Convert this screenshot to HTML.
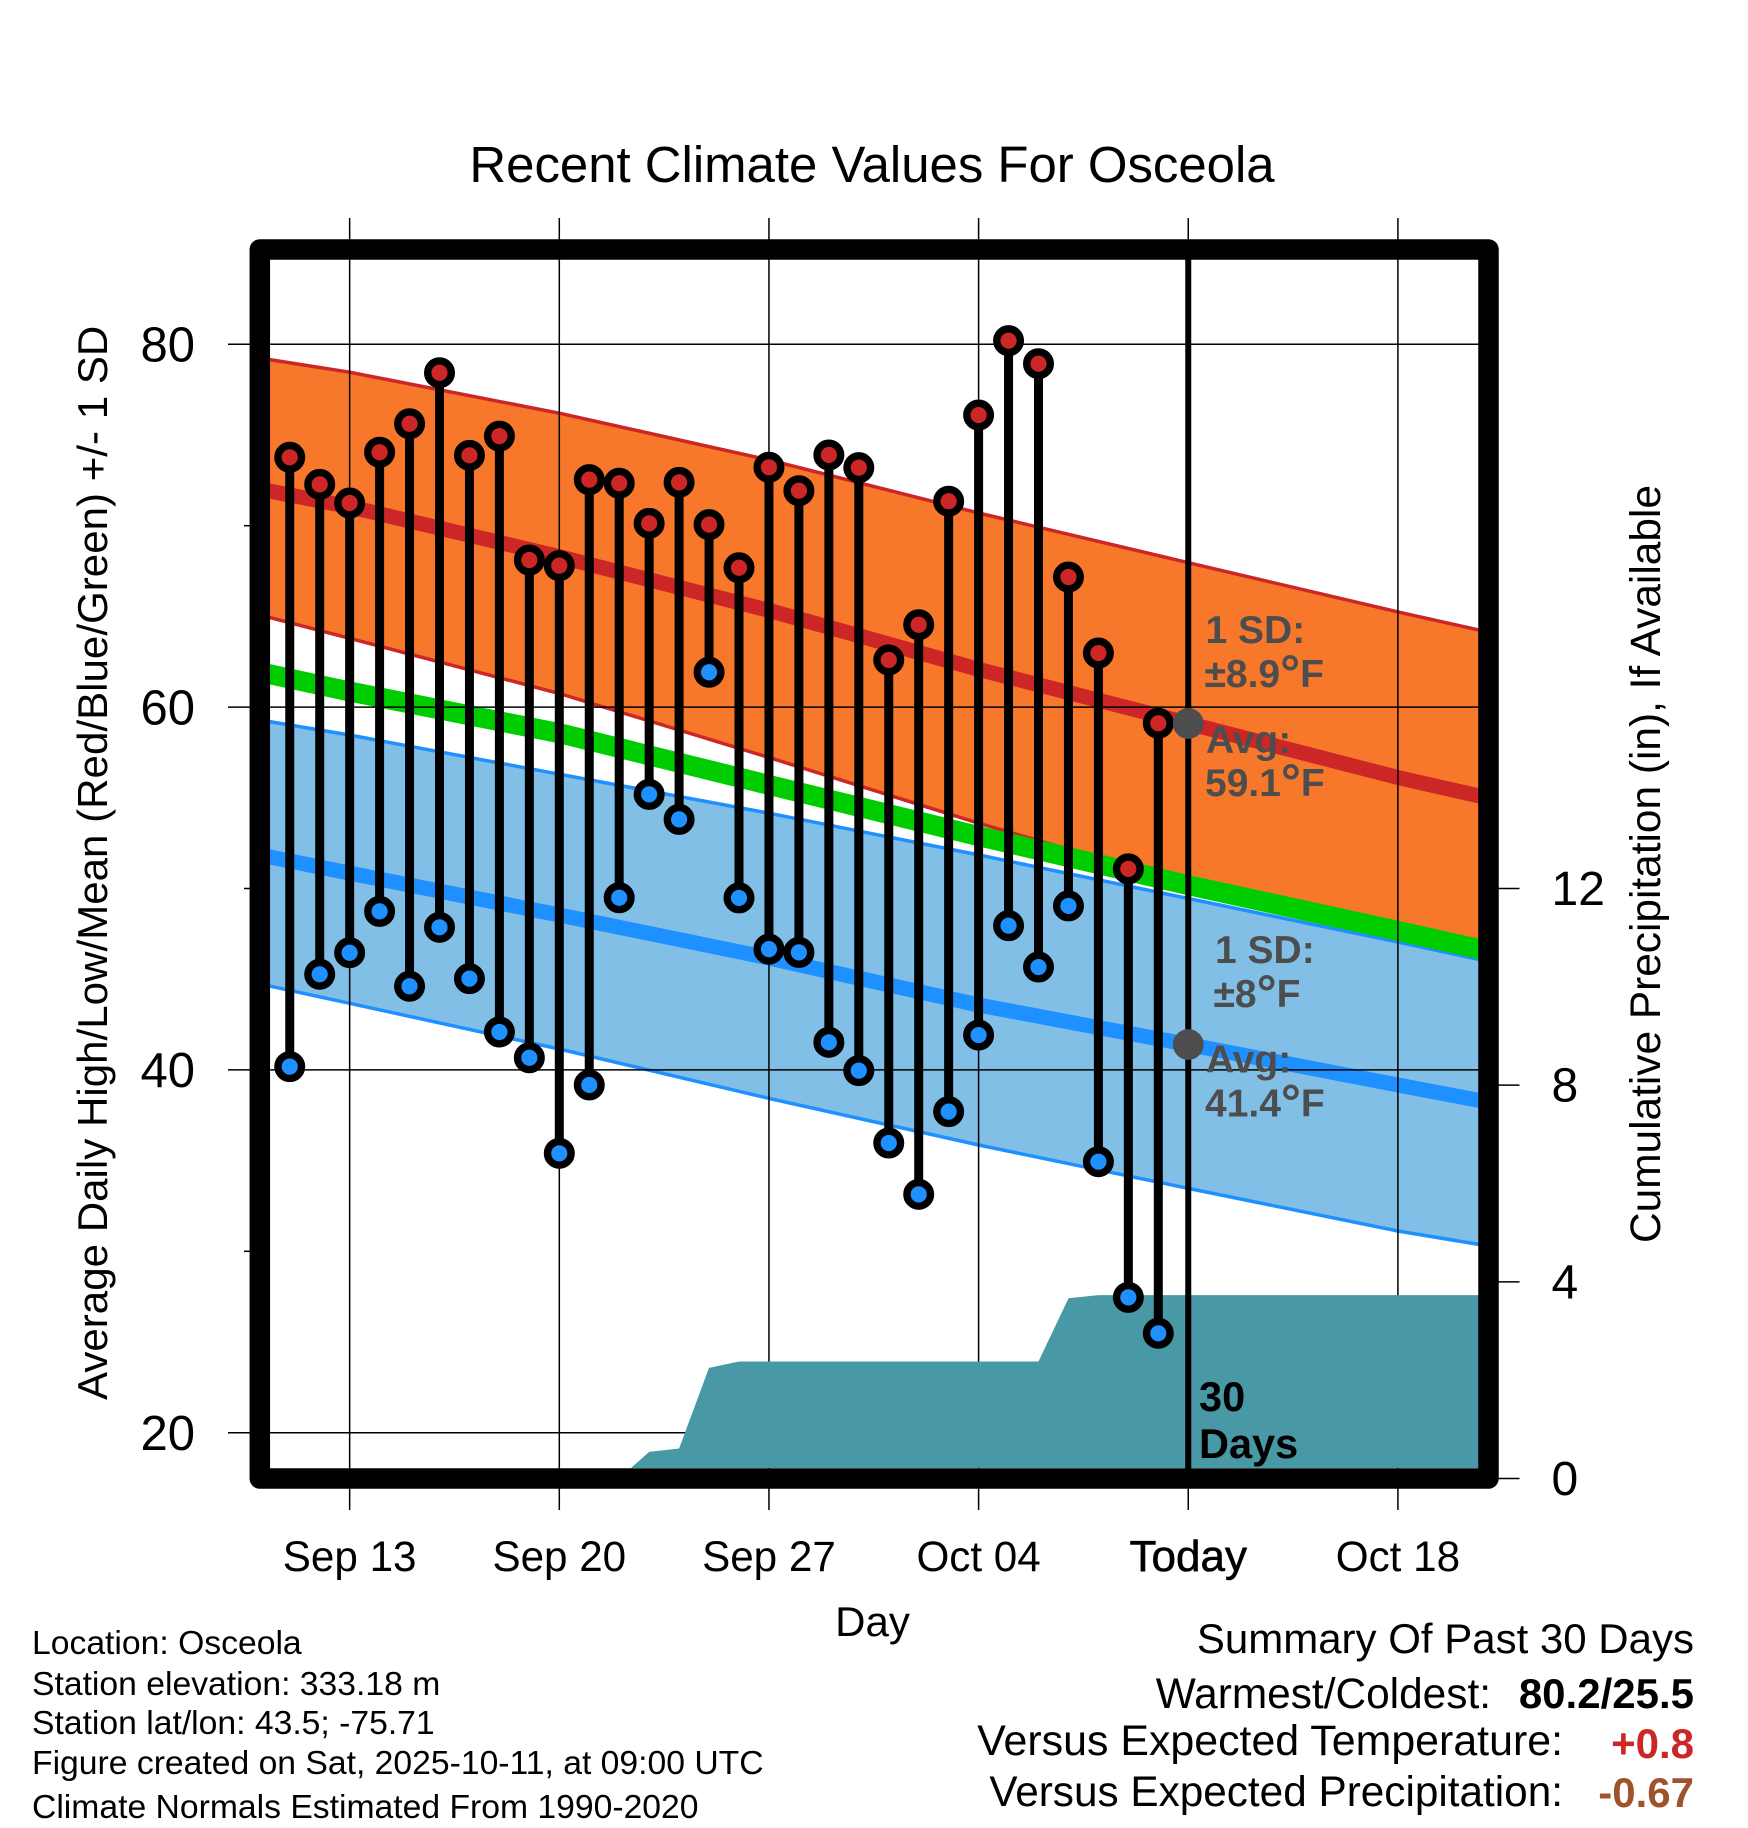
<!DOCTYPE html>
<html lang="en">
<head>
<meta charset="utf-8">
<title>Recent Climate Values For Osceola</title>
<style>
html,body{margin:0;padding:0;background:#fff;}
svg{display:block;}
text{font-family:"Liberation Sans",Arial,sans-serif;fill:#000;}
.b{font-weight:bold;}
.ann{font-weight:bold;font-size:39px;fill:#4d4d4d;}
</style>
</head>
<body>
<svg id="chart" xmlns="http://www.w3.org/2000/svg" width="1748" height="1828" viewBox="0 0 1748 1828">
<defs><clipPath id="plot-clip"><rect x="270" y="260" width="1209" height="1208"/></clipPath></defs>
<g id="plot"></g>
<g id="axes"></g>
<text x="872" y="182" font-size="50.9" text-anchor="middle">Recent Climate Values For Osceola</text>
<text x="872.5" y="1636" font-size="42" text-anchor="middle">Day</text>
<text x="107" y="1400" font-size="42.1" transform="rotate(-90 107 1400)">Average Daily High/Low/Mean (Red/Blue/Green) +/- 1 SD</text>
<text x="1660" y="1243" font-size="42.4" transform="rotate(-90 1660 1243)">Cumulative Precipitation (in), If Available</text>

<g font-size="33.7">
<text x="32" y="1654">Location: Osceola</text>
<text x="32" y="1695">Station elevation: 333.18 m</text>
<text x="32" y="1734">Station lat/lon: 43.5; -75.71</text>
<text x="32" y="1774">Figure created on Sat, 2025-10-11, at 09:00 UTC</text>
<text x="32" y="1818">Climate Normals Estimated From 1990-2020</text>
</g>

<g font-size="42">
<text x="1694" y="1653" text-anchor="end">Summary Of Past 30 Days</text>
<text x="1491" y="1708" font-size="42.4" text-anchor="end">Warmest/Coldest:</text>
<text class="b" x="1694" y="1708" text-anchor="end">80.2/25.5</text>
<text x="1563" y="1755" font-size="42.9" text-anchor="end">Versus Expected Temperature:</text>
<text class="b" x="1694" y="1758" text-anchor="end" style="fill:#cd2626">+0.8</text>
<text x="1563" y="1806" font-size="42.3" text-anchor="end">Versus Expected Precipitation:</text>
<text class="b" x="1694" y="1807" text-anchor="end" style="fill:#a0522d">-0.67</text>
</g>
<script>
// ---- chart data ----
const days = [1,2,3,4,5,6,7,8,9,10,11,12,13,14,15,16,17,18,19,20,21,22,23,24,25,26,27,28,29,30];
const dailyHigh = [73.77,72.28,71.25,74.05,75.62,78.43,73.88,74.94,68.11,67.8,72.54,72.34,70.13,72.39,70.06,67.68,73.22,71.93,73.9,73.2,62.6,64.54,71.35,76.1,80.2,78.93,67.17,62.98,51.08,59.11];
const dailyLow = [40.18,45.27,46.46,48.74,44.61,47.86,45.03,42.09,40.67,35.4,39.17,49.49,55.19,53.81,61.92,49.48,46.66,46.48,41.52,39.96,35.97,33.14,37.7,41.92,47.95,45.67,49.04,34.94,27.46,25.48];
const normalDays = [0,3,10,17,24,31,38,41];
const highUpper = [79.24,78.46,76.2,73.62,70.7,67.96,65.25,64.14];
const highMean = [72.02,71.05,68.29,65.33,62.08,59.1,56.12,54.99];
const highLower = [65.08,63.79,60.75,57.22,53.6,50.25,47.71,46.61];
const meanNormal = [61.93,60.86,58.56,55.71,52.89,50.18,47.66,46.56];
const lowUpper = [59.29,58.46,56.3,54.15,51.85,49.45,47.05,45.98];
const lowMean = [51.85,50.85,48.54,46.17,43.58,41.4,39.17,38.23];
const lowLower = [44.74,43.67,41.15,38.43,35.86,33.47,31.12,30.3];
const precipDays = [0,12,13,14,15,16,26,27,28,41];
const precipValues = [0,0,0.54,0.61,2.25,2.38,2.38,3.665,3.73,3.73];
const xTickDays = [3,10,17,24,31,38];
const xTickLabels = ['Sep 13','Sep 20','Sep 27','Oct 04','Today','Oct 18'];
const yTickValues = [80,60,40,20];
const yMinorValues = [70,50,30];
const y2TickValues = [0,4,8,12];
const todayDay = 31;
const todayHigh = 59.1;
const todayLow = 41.4;
const annotationTopHigh = '1 SD:';
const annotationSdHigh = '±8.9°F';
const annotationAvg = 'Avg:';
const annotationAvgHigh = '59.1°F';
const annotationSdLow = '±8°F';
const annotationAvgLow = '41.4°F';

// ---- axis functions ----
function xScale(d){ return 259.8 + 29.95 * d; }
function yScale(f){ return 344.3 + (80 - f) * 18.14; }
function y2Scale(v){ return 1478.5 - 49.17 * v; }

const NS = 'http://www.w3.org/2000/svg';
const plot = document.getElementById('plot');
const axes = document.getElementById('axes');
function make(parent, tag, attrs, txt){
  const el = document.createElementNS(NS, tag);
  for (const k in attrs) el.setAttribute(k, attrs[k]);
  if (txt !== undefined) el.textContent = txt;
  parent.appendChild(el);
  return el;
}
function pts(xs, ys, sy){ return xs.map((d,i)=> xScale(d).toFixed(1)+','+sy(ys[i]).toFixed(1)); }
function band(parent, up, low){
  return pts(normalDays, up, yScale).concat(pts(normalDays, low, yScale).reverse()).join(' ');
}
let el;
const clipped = make(plot, 'g', {'clip-path':'url(#plot-clip)'});



// high band
el = make(clipped, 'polygon', {points: band(clipped, highUpper, highLower), fill:'#f7772b'});


el = make(clipped, 'polyline', {points: pts(normalDays, highUpper, yScale).join(' '), fill:'none', stroke:'#cd2626', 'stroke-width':3.5});


el = make(clipped, 'polyline', {points: pts(normalDays, highLower, yScale).join(' '), fill:'none', stroke:'#cd2626', 'stroke-width':3.5});


el = make(clipped, 'polyline', {points: pts(normalDays, highMean, yScale).join(' '), fill:'none', stroke:'#cd2626', 'stroke-width':15});



// low band
el = make(clipped, 'polygon', {points: band(clipped, lowUpper, lowLower), fill:'#82bfe7'});


el = make(clipped, 'polyline', {points: pts(normalDays, lowUpper, yScale).join(' '), fill:'none', stroke:'#1e90ff', 'stroke-width':3.5});


el = make(clipped, 'polyline', {points: pts(normalDays, lowLower, yScale).join(' '), fill:'none', stroke:'#1e90ff', 'stroke-width':3.5});


el = make(clipped, 'polyline', {points: pts(normalDays, lowMean, yScale).join(' '), fill:'none', stroke:'#1e90ff', 'stroke-width':15});



// green mean
el = make(clipped, 'polyline', {points: pts(normalDays, meanNormal, yScale).join(' '), fill:'none', stroke:'#00cd00', 'stroke-width':20});



// grid + ticks
xTickDays.forEach((d,i)=>{
  let g = make(plot, 'line', {x1:xScale(d), x2:xScale(d), y1:218, y2:1510, stroke:'#000', 'stroke-width':1.5});
  
  
  let t = make(axes, 'text', {x:xScale(d), y:1571, 'font-size':42.2, 'text-anchor':'middle'}, xTickLabels[i]);
  
  
  if (xTickLabels[i] === 'Today') {
    t.setAttribute('font-size', '44');
    t.setAttribute('style', 'stroke:#000;stroke-width:0.6px');
  }
});
yTickValues.forEach(v=>{
  let g = make(plot, 'line', {x1:228, x2:1479, y1:yScale(v), y2:yScale(v), stroke:'#000', 'stroke-width':1.5});
  
  
  let t = make(axes, 'text', {x:195, y:yScale(v)+17.3, 'font-size':49, 'text-anchor':'end'}, String(v));
  
  
});
yMinorValues.forEach(v=>{
  let g = make(plot, 'line', {x1:244, x2:252, y1:yScale(v), y2:yScale(v), stroke:'#000', 'stroke-width':1.5});
  
  
});
y2TickValues.forEach(v=>{
  let g = make(plot, 'line', {x1:1496, x2:1519.5, y1:y2Scale(v), y2:y2Scale(v), stroke:'#000', 'stroke-width':1.5});
  
  
  let t = make(axes, 'text', {x:1551.5, y:y2Scale(v)+16.5, 'font-size':48}, String(v));
  
  
});

// precipitation area
const clipped2 = make(plot, 'g', {'clip-path':'url(#plot-clip)'});


const precipPts = pts(precipDays, precipValues, y2Scale);
precipPts.push(xScale(precipDays[precipDays.length-1]).toFixed(1)+','+y2Scale(0).toFixed(1));
precipPts.push(xScale(precipDays[0]).toFixed(1)+','+y2Scale(0).toFixed(1));
el = make(clipped2, 'polygon', {points: precipPts.join(' '), fill:'#4899a5'});



// today line
el = make(plot, 'line', {x1:xScale(todayDay), x2:xScale(todayDay), y1:250, y2:1478, stroke:'#000', 'stroke-width':6});



// stems and markers
days.forEach((d,i)=>{
  let s = make(plot, 'line', {x1:xScale(d), x2:xScale(d), y1:yScale(dailyHigh[i]), y2:yScale(dailyLow[i]), stroke:'#000', 'stroke-width':9});
  
  
});
days.forEach((d,i)=>{
  let lo = make(plot, 'circle', {cx:xScale(d), cy:yScale(dailyLow[i]), r:11.8, fill:'#1e90ff', stroke:'#000', 'stroke-width':7.4});
  
  
  let hi = make(plot, 'circle', {cx:xScale(d), cy:yScale(dailyHigh[i]), r:11.8, fill:'#cd2626', stroke:'#000', 'stroke-width':7.4});
  
  
});

// today normals
el = make(plot, 'circle', {cx:xScale(todayDay), cy:yScale(todayHigh), r:15.4, fill:'#4d4d4d'});


el = make(plot, 'circle', {cx:xScale(todayDay), cy:yScale(todayLow), r:15.4, fill:'#4d4d4d'});



// annotations (degree sign drawn a little larger, as in the figure)
function ann(x, y, s){
  const t = make(plot, 'text', {x:x, y:y, class:'ann'});
  const parts = s.split('°');
  t.appendChild(document.createTextNode(parts[0]));
  if (parts.length > 1) {
    make(t, 'tspan', {'font-size':50, dy:3}, '°');
    make(t, 'tspan', {dy:-3}, parts[1]);
  }
  return t;
}
el = ann(1205.5, 643, annotationTopHigh);


el = ann(1204.5, 687, annotationSdHigh);


el = ann(1206, 753, annotationAvg);


el = ann(1205, 796, annotationAvgHigh);


el = ann(1215, 963, annotationTopHigh);


el = ann(1213.5, 1007, annotationSdLow);


el = ann(1206, 1072.5, annotationAvg);


el = ann(1205, 1116.5, annotationAvgLow);



el = make(plot, 'text', {x:1199, y:1411, 'font-size':41.5, class:'b'}, '30');


el = make(plot, 'text', {x:1199, y:1458, 'font-size':41.5, class:'b'}, 'Days');



// frame
el = make(plot, 'rect', {x:259.8, y:249.5, width:1228.7, height:1229, fill:'none', stroke:'#000', 'stroke-width':20.5, 'stroke-linejoin':'round'});


</script>
</svg>
</body>
</html>
